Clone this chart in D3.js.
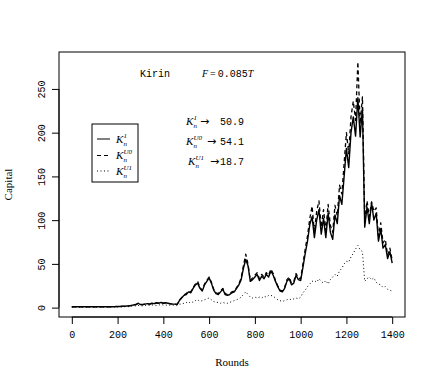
<!DOCTYPE html>
<html>
<head>
<meta charset="utf-8">
<script src="https://cdn.jsdelivr.net/npm/d3@7"></script>
<style>
  body { margin: 0; background: #fff; }
  .tick text { font-family: "Liberation Mono", monospace; }
</style>
</head>
<body>
<div id="chart"></div>
<script>
// Capital per round, one value every 10 rounds (0..1400)
var k1 = [
  1, 1, 1, 1, 1, 1, 1, 1, 1, 1,
  1.2, 1, 1, 1, 1, 1, 1, 1, 1, 1.2,
  1.2, 1.3, 1.5, 1.5, 1.8, 2, 2.5, 3, 3.5, 5,
  3.5, 3.5, 4, 4.5, 4, 5, 4.5, 5.5, 5, 6,
  5, 5.5, 5, 4.5, 4, 4, 3.5, 8, 11, 14,
  15, 18, 17, 22, 26, 28, 22, 19, 26, 30,
  34, 28, 20, 16, 15, 18, 21, 15, 14, 15,
  17, 18, 22, 26, 32, 45, 55, 48, 30, 32,
  35, 38, 31, 36, 33, 38, 35, 42, 37, 30,
  24, 19, 18, 22, 30, 33, 26, 28, 37, 32,
  31, 46, 62, 76, 95, 104, 80, 100, 112, 84,
  102, 80, 108, 86, 78, 106, 96, 128, 118, 150,
  182, 160, 200, 218, 196, 240, 195, 228, 92, 115,
  96, 120, 100, 108, 76, 90, 68, 72, 56, 64,
  50.9
];
var kU0 = [
  1, 1, 1, 1, 1, 1, 1, 1, 1, 1,
  1.1, 1, 1, 1, 1, 1, 1, 1, 1, 1.1,
  1.1, 1.2, 1.4, 1.5, 1.8, 2, 2.4, 3, 3.4, 4.8,
  3.4, 3.5, 4, 4.4, 4, 5, 4.6, 5.4, 5, 6,
  5, 5.4, 5, 4.4, 4, 4, 3.6, 8.5, 11.5, 14.5,
  16, 19, 18, 23, 27, 30, 23, 20, 27, 31,
  35, 29, 21, 17, 16, 19, 22, 16, 15, 16,
  18, 19, 23, 27, 34, 48, 61, 50, 31, 34,
  37, 40, 33, 38, 35, 40, 37, 44, 39, 31,
  25, 20, 19, 23, 32, 35, 28, 30, 39, 34,
  33, 50, 67, 82, 102, 116, 86, 110, 122, 92,
  112, 88, 118, 94, 86, 117, 105, 140, 130, 165,
  200, 176, 218, 236, 214, 281, 210, 241, 100, 122,
  104, 121, 110, 114, 82, 97, 74, 78, 60, 68,
  54.1
];
var kU1 = [
  0.5, 0.5, 0.5, 0.5, 0.5, 0.5, 0.5, 0.5, 0.5, 0.5,
  0.6, 0.6, 0.6, 0.6, 0.6, 0.6, 0.7, 0.7, 0.7, 0.8,
  0.8, 0.8, 0.9, 1, 1.2, 1, 1.5, 2, 2, 2.5,
  2, 2, 2.5, 3, 2.5, 3, 3, 2.5, 3, 3.5,
  3, 3, 2.5, 3, 3, 2.5, 3, 4, 4, 5,
  6, 5, 7, 6, 8, 9, 7, 8, 9, 10,
  11, 9, 7, 6, 6, 5, 6, 5, 5, 6,
  7, 8, 9, 10, 12, 15, 18, 15, 12, 11,
  12, 11, 12, 11, 13, 12, 14, 14, 13, 11,
  9, 8, 7, 8, 9, 10, 9, 10, 11, 10,
  12, 17, 20, 24, 27, 30, 31, 29, 33, 30,
  28, 31, 27, 32, 35, 38, 36, 42, 45, 50,
  53, 52, 58, 62, 67, 71, 66, 64, 30, 33,
  35, 32, 34, 29, 27, 26, 23, 24, 21, 20,
  18.7
];
var rounds = d3.range(0, 1401, 10);

var xTicks = [0, 200, 400, 600, 800, 1000, 1200, 1400];
var yTicks = [0, 50, 100, 150, 200, 250];

var finalLabels = ["50.9", "54.1", "18.7"];
var supLabels = ["1", "U0", "U1"];

// svg area and plot box
var svgWidth = 436;
var svgHeight = 382;
var box = { left: 59, right: 405, top: 52, bottom: 317 };

var svg = d3.select("#chart")
  .append("svg")
  .attr("width", svgWidth)
  .attr("height", svgHeight)
  .style("background", "#fff");

// R style 4% padding on both scales
var xExt = d3.extent(rounds);
var xPad = (xExt[1] - xExt[0]) * 0.04;
var allVals = k1.concat(kU0, kU1);
var yExt = d3.extent(allVals);
var yPad = (yExt[1] - yExt[0]) * 0.04;

var xScale = d3.scaleLinear()
  .domain([xExt[0] - xPad, xExt[1] + xPad])
  .range([box.left, box.right]);

var yScale = d3.scaleLinear()
  .domain([yExt[0] - yPad, yExt[1] + yPad])
  .range([box.bottom, box.top]);

// series lines
var line = d3.line()
  .x(function(d, i) { return xScale(rounds[i]); })
  .y(function(d) { return yScale(d); });

var series = [
  { values: kU1, dash: "1,2.5", width: 1 },
  { values: kU0, dash: "4,3", width: 1.3 },
  { values: k1, dash: null, width: 1.4 }
];

series.forEach(function(s) {
  svg.append("path")
    .datum(s.values)
    .attr("d", line)
    .attr("fill", "none")
    .attr("stroke", "#000")
    .attr("stroke-width", s.width)
    .attr("stroke-linejoin", "round")
    .attr("stroke-dasharray", s.dash);
});

// axes
var xAxis = d3.axisBottom(xScale).tickValues(xTicks).tickSize(7).tickPadding(7).tickFormat(d3.format("d"));
var yAxis = d3.axisLeft(yScale).tickValues(yTicks).tickSize(7).tickPadding(5);

var gx = svg.append("g")
  .attr("transform", "translate(0," + box.bottom + ")")
  .call(xAxis);
gx.select(".domain").attr("d", "M" + xScale(0) + ",0H" + xScale(1400));
gx.selectAll("text").style("font-size", "10px").attr("fill", "#000");

var gy = svg.append("g")
  .attr("transform", "translate(" + box.left + ",0)")
  .call(yAxis);
gy.select(".domain").attr("d", "M0," + yScale(0) + "V" + yScale(250));
gy.selectAll("text")
  .style("font-size", "10px")
  .attr("fill", "#000")
  .attr("text-anchor", "middle")
  .attr("dy", null)
  .attr("x", null)
  .attr("transform", "translate(-17,0) rotate(-90)")
  .attr("dominant-baseline", "central");

// plot box
svg.append("rect")
  .attr("x", box.left)
  .attr("y", box.top)
  .attr("width", box.right - box.left)
  .attr("height", box.bottom - box.top)
  .attr("fill", "none")
  .attr("stroke", "#000")
  .attr("stroke-width", 1);

// axis titles
svg.append("text")
  .attr("x", (box.left + box.right) / 2)
  .attr("y", 366)
  .attr("text-anchor", "middle")
  .style("font-family", "Liberation Serif, serif")
  .style("font-size", "11px")
  .text("Rounds");

svg.append("text")
  .attr("transform", "translate(12," + (box.top + box.bottom) / 2 + ") rotate(-90)")
  .attr("text-anchor", "middle")
  .style("font-family", "Liberation Serif, serif")
  .style("font-size", "11px")
  .text("Capital");

// title line
svg.append("text")
  .attr("x", 140).attr("y", 77)
  .style("font-family", "Liberation Mono, monospace")
  .style("font-size", "10px")
  .text("Kirin");

var fText = svg.append("text")
  .attr("x", 202).attr("y", 77)
  .style("font-size", "10px");
fText.append("tspan").style("font-family", "Liberation Serif, serif").style("font-style", "italic").text("F");
fText.append("tspan").style("font-family", "Liberation Serif, serif").text("\u2009=\u2009");
fText.append("tspan").style("font-family", "Liberation Mono, monospace").text("0.085");
fText.append("tspan").style("font-family", "Liberation Serif, serif").style("font-style", "italic").text("T");

// K with subscript n and superscript label
function drawK(g, x, y, sup) {
  g.append("text")
    .attr("x", x).attr("y", y)
    .style("font-family", "Liberation Serif, serif")
    .style("font-style", "italic")
    .style("font-size", "11px")
    .text("K");
  g.append("text")
    .attr("x", x + 7.5).attr("y", y - 5)
    .style("font-family", "Liberation Serif, serif")
    .style("font-style", "italic")
    .style("font-size", "7px")
    .text(sup);
  g.append("text")
    .attr("x", x + 7.5).attr("y", y + 3)
    .style("font-family", "Liberation Serif, serif")
    .style("font-style", "italic")
    .style("font-size", "7px")
    .text("n");
}

// final value annotations
var annY = [125, 145, 165];
var annX = [186, 186, 188];
var arrowX = [200, 207, 210];
finalLabels.forEach(function(lab, i) {
  var g = svg.append("g");
  drawK(g, annX[i], annY[i], supLabels[i]);
  g.append("text")
    .attr("x", arrowX[i]).attr("y", annY[i] - 0.5)
    .style("font-family", "DejaVu Sans, sans-serif")
    .style("font-size", "11px")
    .text("\u2192");
  g.append("text")
    .attr("x", 220).attr("y", annY[i])
    .style("font-family", "Liberation Mono, monospace")
    .style("font-size", "10px")
    .text(lab);
});

// legend
var legend = svg.append("g");
legend.append("rect")
  .attr("x", 92).attr("y", 124)
  .attr("width", 46).attr("height", 58)
  .attr("fill", "#fff")
  .attr("stroke", "#000");

var legY = [139, 155.5, 171];
var legDash = [null, "4,3", "1,2.5"];
supLabels.forEach(function(sup, i) {
  legend.append("line")
    .attr("x1", 97).attr("x2", 110)
    .attr("y1", legY[i]).attr("y2", legY[i])
    .attr("stroke", "#000")
    .attr("stroke-dasharray", legDash[i]);
  drawK(legend, 116, legY[i] + 3.5, sup);
});
</script>
</body>
</html>
